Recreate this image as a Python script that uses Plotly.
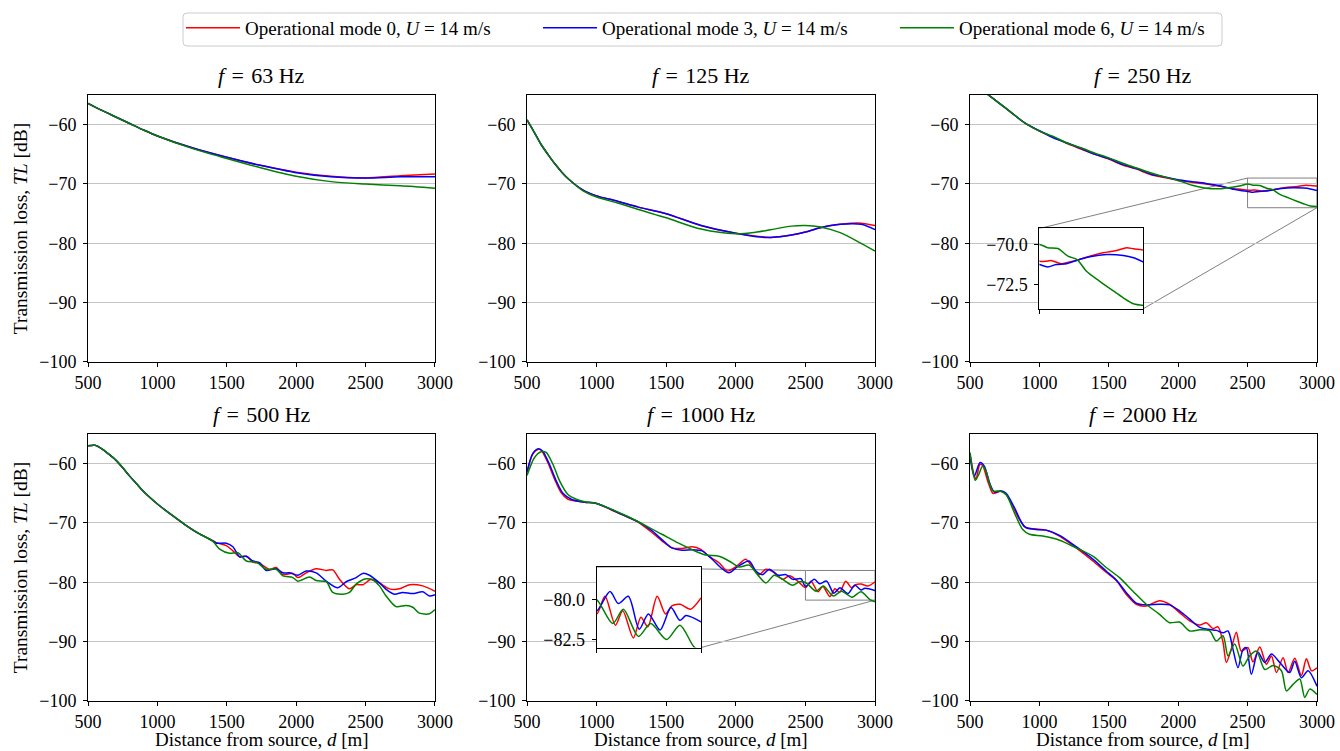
import plotly.graph_objects as go

# ---------------- data ----------------
# f = 63 Hz
d63 = [500, 600, 700, 800, 900, 1000, 1250, 1500, 1750, 2000, 2250, 2500, 2750, 3000]
tl63_m0 = [-56.4, -57.6, -58.7, -59.8, -60.9, -61.9, -63.9, -65.5, -66.9, -68.0, -68.7, -69.0, -68.6, -68.3]
tl63_m3 = [-56.4, -57.6, -58.7, -59.8, -60.9, -61.9, -63.9, -65.5, -66.9, -68.1, -68.8, -69.0, -68.8, -68.8]
tl63_m6 = [-56.4, -57.6, -58.7, -59.8, -60.9, -61.9, -64.0, -65.7, -67.3, -68.7, -69.6, -70.0, -70.3, -70.7]

# f = 125 Hz
d125 = [500, 550, 600, 650, 700, 750, 800, 900, 1000, 1150, 1300, 1500, 1750, 2000, 2150, 2250, 2400, 2500, 2600, 2750, 2900, 3000]
tl125_m0 = [-59.2, -61.2, -63.3, -65.0, -66.6, -68.0, -69.2, -71.0, -72.0, -72.9, -73.9, -75.0, -77.0, -78.3, -78.8, -79.0, -78.6, -78.1, -77.4, -76.8, -76.6, -77.0]
tl125_m3 = [-59.2, -61.2, -63.3, -65.0, -66.6, -68.0, -69.2, -71.0, -72.0, -72.9, -73.9, -75.0, -77.0, -78.3, -78.9, -79.0, -78.6, -78.1, -77.4, -76.8, -76.8, -77.7]
tl125_m6 = [-59.2, -61.2, -63.3, -65.0, -66.6, -68.0, -69.2, -71.1, -72.2, -73.2, -74.3, -75.7, -77.6, -78.4, -78.1, -77.7, -77.1, -77.0, -77.2, -78.2, -80.0, -81.3]

# f = 250 Hz
d250_m0 = [500, 600, 700, 800, 900, 1000, 1100, 1200, 1300, 1400, 1500, 1600, 1700, 1800, 1900, 2000, 2100, 2200, 2300, 2400, 2450,
           2500, 2530, 2556, 2605, 2640, 2677, 2742, 2806, 2871, 2919, 2952, 3000]
tl250_m0 = [-52.5, -54.4, -56.2, -58.0, -59.8, -61.1, -62.1, -63.2, -64.1, -65.0, -65.8, -66.8, -67.5, -68.4, -68.9, -69.4, -69.7, -70.0, -70.4, -70.8, -70.9,
            -71.04, -71.05, -71.0, -71.2, -71.1, -71.0, -70.73, -70.52, -70.38, -70.2, -70.27, -70.35]
d250_m3 = [500, 600, 700, 800, 900, 1000, 1100, 1200, 1300, 1400, 1500, 1600, 1700, 1800, 1900, 2000, 2100, 2200, 2300, 2400, 2450,
           2500, 2540, 2580, 2630, 2677, 2742, 2823, 2903, 2952, 3000]
tl250_m3 = [-52.5, -54.4, -56.2, -58.0, -59.8, -61.0, -62.2, -63.1, -64.0, -65.0, -65.7, -66.7, -67.4, -68.3, -68.8, -69.3, -69.6, -69.9, -70.3, -70.9, -71.1,
            -71.25, -71.4, -71.25, -71.2, -71.0, -70.77, -70.63, -70.69, -70.83, -71.1]
d250_m6 = [500, 600, 700, 800, 900, 1000, 1100, 1200, 1300, 1400, 1500, 1600, 1700, 1800, 1900, 2000, 2100, 2200, 2300, 2400, 2450,
           2500, 2540, 2589, 2637, 2681, 2726, 2790, 2855, 2903, 2952, 3000]
tl250_m6 = [-52.5, -54.4, -56.2, -58.0, -59.8, -61.1, -62.0, -63.1, -63.9, -64.8, -65.6, -66.5, -67.3, -68.1, -68.8, -69.4, -70.2, -70.7, -70.8, -70.5, -70.3,
            -70.0, -70.2, -70.25, -70.73, -70.94, -71.67, -72.3, -72.9, -73.33, -73.7, -73.8]

# f = 500 Hz
d500_m0 = [500, 550, 600, 650, 700, 750, 800, 850, 900, 1000, 1100, 1200, 1300, 1400, 1424, 1496, 1544, 1592, 1640, 1688, 1736, 1808, 1856,
           1904, 1976, 2012, 2072, 2144, 2216, 2264, 2312, 2384, 2432, 2480, 2540, 2600, 2672, 2744, 2816, 2912, 3000]
tl500_m0 = [-57.0, -56.9, -57.5, -58.4, -59.4, -60.7, -62.1, -63.4, -64.7, -66.8, -68.6, -70.3, -71.8, -73.0, -73.3, -73.8, -74.7, -75.7, -75.6, -76.6, -76.8, -77.8, -77.5,
            -78.7, -78.5, -79.2, -78.4, -77.7, -78.0, -77.9, -79.5, -81.1, -80.4, -80.4, -79.5, -80.1, -81.1, -81.1, -80.4, -80.6, -81.5]
d500_m3 = [500, 550, 600, 650, 700, 750, 800, 850, 900, 1000, 1100, 1200, 1300, 1400, 1424, 1496, 1544, 1592, 1640, 1688, 1736, 1784, 1856,
           1904, 1952, 2012, 2072, 2144, 2216, 2300, 2360, 2432, 2480, 2528, 2600, 2648, 2708, 2768, 2840, 2912, 2960, 3000]
tl500_m3 = [-57.0, -56.9, -57.5, -58.4, -59.4, -60.7, -62.1, -63.4, -64.7, -66.8, -68.6, -70.3, -71.8, -73.0, -73.4, -73.4, -74.0, -75.7, -75.6, -76.4, -76.7, -78.0, -77.7,
            -78.4, -78.4, -78.8, -78.1, -78.4, -79.8, -80.9, -79.9, -79.2, -78.5, -78.8, -80.1, -81.2, -82.0, -81.7, -81.9, -81.6, -82.3, -82.1]
d500_m6 = [500, 550, 600, 650, 700, 750, 800, 850, 900, 1000, 1100, 1200, 1300, 1400, 1448, 1520, 1580, 1640, 1712, 1784, 1856,
           1904, 1976, 2012, 2096, 2144, 2216, 2264, 2336, 2384, 2432, 2504, 2552, 2600, 2648, 2720, 2792, 2840, 2888, 2960, 3000]
tl500_m6 = [-57.0, -56.9, -57.5, -58.4, -59.4, -60.7, -62.1, -63.4, -64.7, -66.8, -68.6, -70.3, -71.8, -73.1, -74.4, -75.1, -75.0, -76.4, -76.6, -77.8, -77.8,
            -78.9, -79.2, -79.8, -79.1, -79.7, -79.9, -81.7, -82.0, -81.7, -80.3, -79.4, -79.6, -80.6, -82.3, -84.1, -83.9, -84.2, -85.2, -85.3, -84.6]

# f = 1000 Hz
d1000_m0 = [500, 541, 577, 601, 649, 698, 746, 794, 854, 915, 1000, 1107, 1204, 1300, 1397, 1469, 1541, 1613, 1686, 1746, 1806, 1879,
            1939, 1999, 2071, 2120, 2168, 2216, 2276, 2336, 2385, 2445,
            2500, 2540, 2590, 2625, 2676, 2712, 2745, 2790, 2830, 2860, 2900, 2950, 3000]
tl1000_m0 = [-61.5, -58.4, -57.6, -57.7, -59.8, -62.6, -64.9, -66.0, -66.3, -66.5, -66.7, -67.8, -68.8, -69.9, -71.6, -73.0, -74.2, -74.3, -74.0, -74.4, -75.6, -76.7,
             -78.1, -77.4, -76.1, -77.5, -78.7, -77.8, -78.3, -79.5, -78.9, -79.8,
             -80.9, -79.8, -81.6, -80.7, -82.4, -81.1, -81.7, -79.8, -80.9, -80.4, -80.3, -80.6, -79.9]
d1000_m3 = [500, 541, 582, 613, 661, 710, 758, 818, 915, 1000, 1204, 1300, 1397, 1469, 1541, 1613, 1686, 1758, 1830, 1891,
            1951, 2011, 2095, 2144, 2192, 2240, 2300, 2360, 2409, 2469,
            2500, 2564, 2604, 2652, 2704, 2748, 2804, 2856, 2899, 2928, 3000]
tl1000_m3 = [-61.4, -58.3, -57.5, -57.9, -60.1, -62.9, -65.0, -66.0, -66.5, -66.7, -68.8, -69.8, -71.3, -72.8, -74.2, -74.6, -74.5, -74.7, -76.1, -77.5,
             -78.4, -77.4, -76.4, -78.1, -78.7, -77.8, -78.8, -78.7, -79.5, -79.4,
             -80.7, -79.5, -80.25, -79.8, -81.85, -80.9, -81.9, -80.5, -81.3, -81.0, -81.4]
d1000_m6 = [500, 553, 601, 637, 686, 734, 794, 854, 915, 1000, 1204, 1349, 1469, 1589, 1686, 1782, 1879,
            1951, 2023, 2095, 2156, 2216, 2276, 2336, 2409, 2457,
            2500, 2577, 2628, 2700, 2759, 2835, 2899, 2963, 3000]
tl1000_m6 = [-62.0, -59.0, -58.0, -58.1, -60.1, -62.9, -65.2, -66.0, -66.4, -66.7, -68.7, -70.4, -71.9, -73.4, -74.5, -75.4, -75.6,
             -76.4, -77.4, -77.1, -78.7, -80.1, -78.8, -79.5, -80.5, -79.9,
             -80.0, -81.5, -80.6, -82.3, -81.5, -82.5, -81.6, -82.9, -83.3]

# f = 2000 Hz
d2000_m0 = [500, 531, 543, 572, 591, 627, 664, 688, 724, 760, 808, 856, 904, 976, 1048, 1145, 1265, 1385, 1481, 1554, 1625, 1698, 1770,
            1866, 1938, 2010, 2083, 2155, 2203, 2251, 2287, 2323, 2347, 2383, 2419, 2455, 2503, 2539, 2588, 2636, 2672, 2708, 2756,
            2792, 2840, 2888, 2924, 2960, 3000]
tl2000_m0 = [-58.4, -62.1, -62.6, -60.1, -60.3, -62.9, -65.0, -64.9, -64.6, -65.2, -67.2, -69.4, -70.8, -71.0, -71.2, -72.2, -74.2, -76.4, -78.3, -79.7, -82.0, -83.7, -84.0,
             -83.1, -83.7, -85.1, -86.5, -87.2, -86.8, -87.8, -87.5, -90.1, -93.5, -91.2, -88.4, -91.6, -91.0, -93.4, -90.9, -93.8, -92.4, -95.2, -92.7,
             -95.2, -92.8, -95.7, -92.9, -94.9, -94.4]
d2000_m3 = [500, 531, 572, 603, 640, 676, 724, 760, 820, 892, 976, 1048, 1145, 1265, 1385, 1481, 1554, 1625, 1698, 1770,
            1866, 1938, 2010, 2083, 2155, 2215, 2275, 2323, 2359, 2395, 2431, 2467, 2491, 2527, 2575, 2624, 2672, 2732,
            2804, 2840, 2888, 2936, 3000]
tl2000_m3 = [-58.7, -62.1, -59.8, -60.4, -63.2, -64.8, -64.6, -65.0, -67.4, -70.6, -71.1, -71.2, -72.1, -74.0, -76.1, -78.1, -79.6, -81.7, -83.5, -83.8,
             -83.7, -83.8, -84.8, -86.2, -87.6, -87.9, -88.1, -88.5, -88.2, -91.3, -94.4, -91.3, -91.0, -95.5, -91.8, -93.5, -92.1, -93.5,
             -95.2, -93.3, -96.1, -94.9, -97.5]
d2000_m6 = [500, 538, 563, 591, 615, 664, 712, 760, 820, 880, 928, 1024, 1145, 1265, 1385, 1481, 1577, 1674, 1770, 1866, 1938,
            2010, 2083, 2155, 2227, 2275, 2323, 2359, 2407, 2467, 2515, 2564, 2624, 2684, 2744, 2780, 2828, 2876, 2912, 2948, 3000]
tl2000_m6 = [-58.1, -62.8, -61.8, -60.4, -61.2, -64.6, -64.6, -65.2, -68.3, -71.1, -71.9, -72.2, -72.9, -74.2, -75.6, -77.5, -79.2, -81.5, -83.7, -85.4, -86.8,
             -86.7, -88.2, -88.0, -88.2, -89.9, -89.0, -92.4, -90.4, -94.1, -92.4, -91.6, -94.7, -94.0, -94.9, -98.3, -97.2, -96.3, -99.4, -98.0, -98.9]

titles = ["63", "125", "250", "500", "1000", "2000"]
series_names = ["Operational mode 0, <i>U</i> = 14 m/s",
                "Operational mode 3, <i>U</i> = 14 m/s",
                "Operational mode 6, <i>U</i> = 14 m/s"]
colors = ["#ff0000", "#0000ff", "#008000"]
x_title = "Distance from source, <i>d</i> [m]"
y_title = "Transmission loss, <i>TL</i> [dB]"

panels = [
    [(d63, tl63_m0), (d63, tl63_m3), (d63, tl63_m6)],
    [(d125, tl125_m0), (d125, tl125_m3), (d125, tl125_m6)],
    [(d250_m0, tl250_m0), (d250_m3, tl250_m3), (d250_m6, tl250_m6)],
    [(d500_m0, tl500_m0), (d500_m3, tl500_m3), (d500_m6, tl500_m6)],
    [(d1000_m0, tl1000_m0), (d1000_m3, tl1000_m3), (d1000_m6, tl1000_m6)],
    [(d2000_m0, tl2000_m0), (d2000_m3, tl2000_m3), (d2000_m6, tl2000_m6)],
]

# inset definitions: (parent panel index, x range, y range, y ticks)
insets = [(2, [2500, 3000], [-74, -69], [-70, -72.5]),
          (4, [2500, 3000], [-83, -78], [-80, -82.5])]

# ---------------- layout geometry ----------------
W, H = 1340, 751
FONT = "Liberation Serif"
TICK_SIZE = 18
col_dom = [[0.0657, 0.3246], [0.3933, 0.6530], [0.7239, 0.9828]]
row_dom = [[0.518, 0.8735], [0.0666, 0.4221]]
XR = [500, 3000]
YR = [-100, -55]

fig = go.Figure()
layout = dict(width=W, height=H, margin=dict(l=0, r=0, t=0, b=0, autoexpand=False), autosize=False,
              paper_bgcolor="white", plot_bgcolor="white",
              font=dict(family=FONT, size=TICK_SIZE, color="black"),
              showlegend=True)

axis_common = dict(showline=True, mirror=True, linecolor="black", linewidth=1,
                   ticks="outside", ticklen=4, tickwidth=1, tickcolor="black", automargin=False,
                   zeroline=False, tickfont=dict(family=FONT, size=TICK_SIZE, color="black"))

annotations = []
shapes = []
for i in range(6):
    r, c = divmod(i, 3)
    n = i + 1
    xa = dict(axis_common, domain=col_dom[c], range=XR, tickvals=[500, 1000, 1500, 2000, 2500, 3000],
              showgrid=False, anchor=f"y{n}")
    ya = dict(axis_common, domain=row_dom[r], range=YR, tickvals=[-100, -90, -80, -70, -60],
              showgrid=True, gridcolor="#c4c4c4", gridwidth=1, anchor=f"x{n}", ticklabelstandoff=3)
    if c == 0:
        ya["title"] = dict(text=y_title, font=dict(family=FONT, size=19.5), standoff=6)
    layout[f"xaxis{n}"] = xa
    layout[f"yaxis{n}"] = ya
    for k, (dx, dy) in enumerate(panels[i]):
        fig.add_trace(go.Scatter(x=dx, y=dy, mode="lines", name=series_names[k],
                                 line=dict(color=colors[k], width=1.5, shape="spline", smoothing=0.8),
                                 xaxis=f"x{n}", yaxis=f"y{n}", showlegend=(i == 0),
                                 legendrank=k))
    ytop = row_dom[r][1]
    annotations.append(dict(text=f"<i>f</i>\u2004=\u2004{titles[i]} Hz",
                            x=sum(col_dom[c]) / 2, y=ytop + 0.006,
                            xref="paper", yref="paper", xanchor="center", yanchor="bottom",
                            showarrow=False, font=dict(family=FONT, size=22, color="black")))
    if r == 1:
        # x-axis title placed as a bottom-anchored label under each lower panel
        annotations.append(dict(text=x_title, x=sum(col_dom[c]) / 2, y=0,
                                xref="paper", yref="paper", xanchor="center", yanchor="bottom",
                                borderpad=0, showarrow=False,
                                font=dict(family=FONT, size=19, color="black")))

for j, (p, xr, yr, yt) in enumerate(insets):
    n = 7 + j
    r, c = divmod(p, 3)
    cx, cy = col_dom[c], row_dom[r]
    wx, wy = cx[1] - cx[0], cy[1] - cy[0]
    dom_x = [cx[0] + 0.2 * wx, cx[0] + 0.5 * wx]
    dom_y = [cy[0] + 0.2 * wy, cy[0] + 0.5 * wy]
    layout[f"xaxis{n}"] = dict(axis_common, domain=dom_x, range=xr, tickvals=xr, showticklabels=False,
                               showgrid=False, anchor=f"y{n}")
    layout[f"yaxis{n}"] = dict(axis_common, domain=dom_y, range=yr, tickvals=yt,
                               ticktext=[f"\u2212{abs(v):.1f}" for v in yt],
                               showgrid=False, anchor=f"x{n}", ticklabelstandoff=3)
    for k, (dx, dy) in enumerate(panels[p]):
        fig.add_trace(go.Scatter(x=dx, y=dy, mode="lines", name=series_names[k],
                                 line=dict(color=colors[k], width=1.5, shape="spline", smoothing=0.8),
                                 xaxis=f"x{n}", yaxis=f"y{n}", showlegend=False))
    # zoom rectangle + connectors in parent axes coordinates
    px = f"x{p + 1}"
    py = f"y{p + 1}"
    ix0 = XR[0] + 0.2 * (XR[1] - XR[0])
    ix1 = XR[0] + 0.5 * (XR[1] - XR[0])
    iy0 = YR[0] + 0.2 * (YR[1] - YR[0])
    iy1 = YR[0] + 0.5 * (YR[1] - YR[0])
    gl = dict(color="#808080", width=1)
    shapes.append(dict(type="rect", xref=px, yref=py, x0=xr[0], x1=xr[1], y0=yr[0], y1=yr[1],
                       line=gl, layer="below"))
    shapes.append(dict(type="line", xref=px, yref=py, x0=ix0, y0=iy1, x1=xr[0], y1=yr[1],
                       line=gl, layer="below"))
    shapes.append(dict(type="line", xref=px, yref=py, x0=ix1, y0=iy0, x1=xr[1], y1=yr[0],
                       line=gl, layer="below"))

# rounded legend frame (matplotlib style)
lx0, lx1 = 183 / W, 1222 / W
ly1, ly0 = 1 - 13 / H, 1 - 46 / H
rx, ry = 4 / W, 4 / H
frame_path = (f"M{lx0 + rx},{ly1} L{lx1 - rx},{ly1} Q{lx1},{ly1} {lx1},{ly1 - ry} "
              f"L{lx1},{ly0 + ry} Q{lx1},{ly0} {lx1 - rx},{ly0} L{lx0 + rx},{ly0} "
              f"Q{lx0},{ly0} {lx0},{ly0 + ry} L{lx0},{ly1 - ry} Q{lx0},{ly1} {lx0 + rx},{ly1} Z")
shapes.append(dict(type="path", xref="paper", yref="paper", path=frame_path,
                   line=dict(color="#cccccc", width=1), fillcolor="white", layer="below"))

layout["annotations"] = annotations
layout["shapes"] = shapes
layout["legend"] = dict(orientation="h", x=181 / W, xanchor="left", y=1 - 9 / H, yanchor="top",
                        borderwidth=0, bgcolor="rgba(0,0,0,0)",
                        font=dict(family=FONT, size=19, color="black"),
                        entrywidth=288, itemwidth=54, traceorder="normal")
fig.update_layout(**layout)
fig.write_html("out.html")
